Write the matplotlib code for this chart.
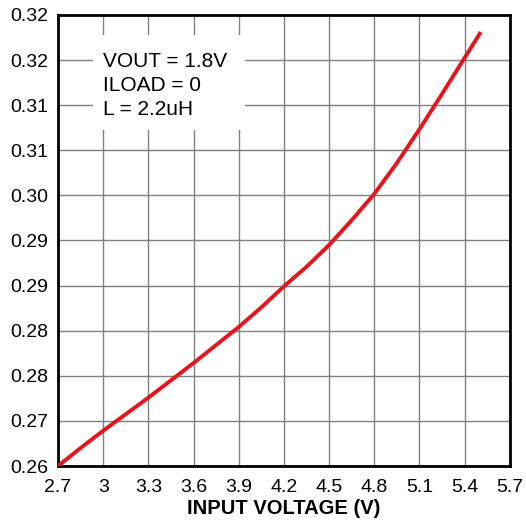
import matplotlib
matplotlib.use("Agg")
import matplotlib.pyplot as plt
from matplotlib.patches import Rectangle
from matplotlib.ticker import FormatStrFormatter

plt.rcParams['font.family'] = ['Liberation Sans', 'DejaVu Sans']

# data
vin = [2.70, 2.85, 3.00, 3.15, 3.30, 3.45, 3.60, 3.75, 3.90, 4.05,
       4.20, 4.35, 4.50, 4.65, 4.80, 4.95, 5.10, 5.25, 5.40, 5.50]
freq = [0.2640, 0.2664, 0.2687, 0.2709, 0.2731, 0.2754, 0.2777, 0.2801, 0.2825, 0.2851,
        0.2879, 0.2905, 0.2934, 0.2967, 0.3002, 0.3043, 0.3088, 0.3135, 0.3183, 0.3215]
x_ticks = [2.7, 3.0, 3.3, 3.6, 3.9, 4.2, 4.5, 4.8, 5.1, 5.4, 5.7]
x_labels = ["2.7", "3", "3.3", "3.6", "3.9", "4.2", "4.5", "4.8", "5.1", "5.4", "5.7"]
y_ticks = [0.264 + 0.006 * i for i in range(11)]
note_lines = ["VOUT = 1.8V", "ILOAD = 0", "L = 2.2uH"]

fig = plt.figure(figsize=(5.26, 5.32), dpi=100)
ax = fig.add_axes([0.1103, 0.124, 0.859, 0.848])

ax.plot(vin, freq, color='#e8141c', linewidth=2.8, solid_joinstyle='round', zorder=4)

ax.set_xlim(2.7, 5.7)
ax.set_ylim(0.264, 0.324)
ax.set_xticks(x_ticks)
ax.set_xticklabels(x_labels)
ax.set_yticks(y_ticks)
ax.yaxis.set_major_formatter(FormatStrFormatter('%.2f'))
ax.tick_params(length=0, labelsize=14)
ax.tick_params(axis='x', pad=9.5)
ax.tick_params(axis='y', pad=7)
ax.grid(True, color='#808080', linewidth=1.0)
ax.set_axisbelow(True)
for s in ax.spines.values():
    s.set_linewidth(2)
    s.set_color('black')

ax.set_xlabel("INPUT VOLTAGE (V)", fontsize=14.5, fontweight='bold', labelpad=2)

# white box behind the notes, hiding the grid
ax.add_patch(Rectangle((2.932, 0.3087), 1.01, 0.0126, facecolor='white',
                       edgecolor='none', zorder=2))
for i, line in enumerate(note_lines):
    ax.text(3.0, 0.3171 - 0.0032 * i, line, fontsize=15, va='baseline',
            ha='left', zorder=3)

fig.savefig("out.png", dpi=100)
